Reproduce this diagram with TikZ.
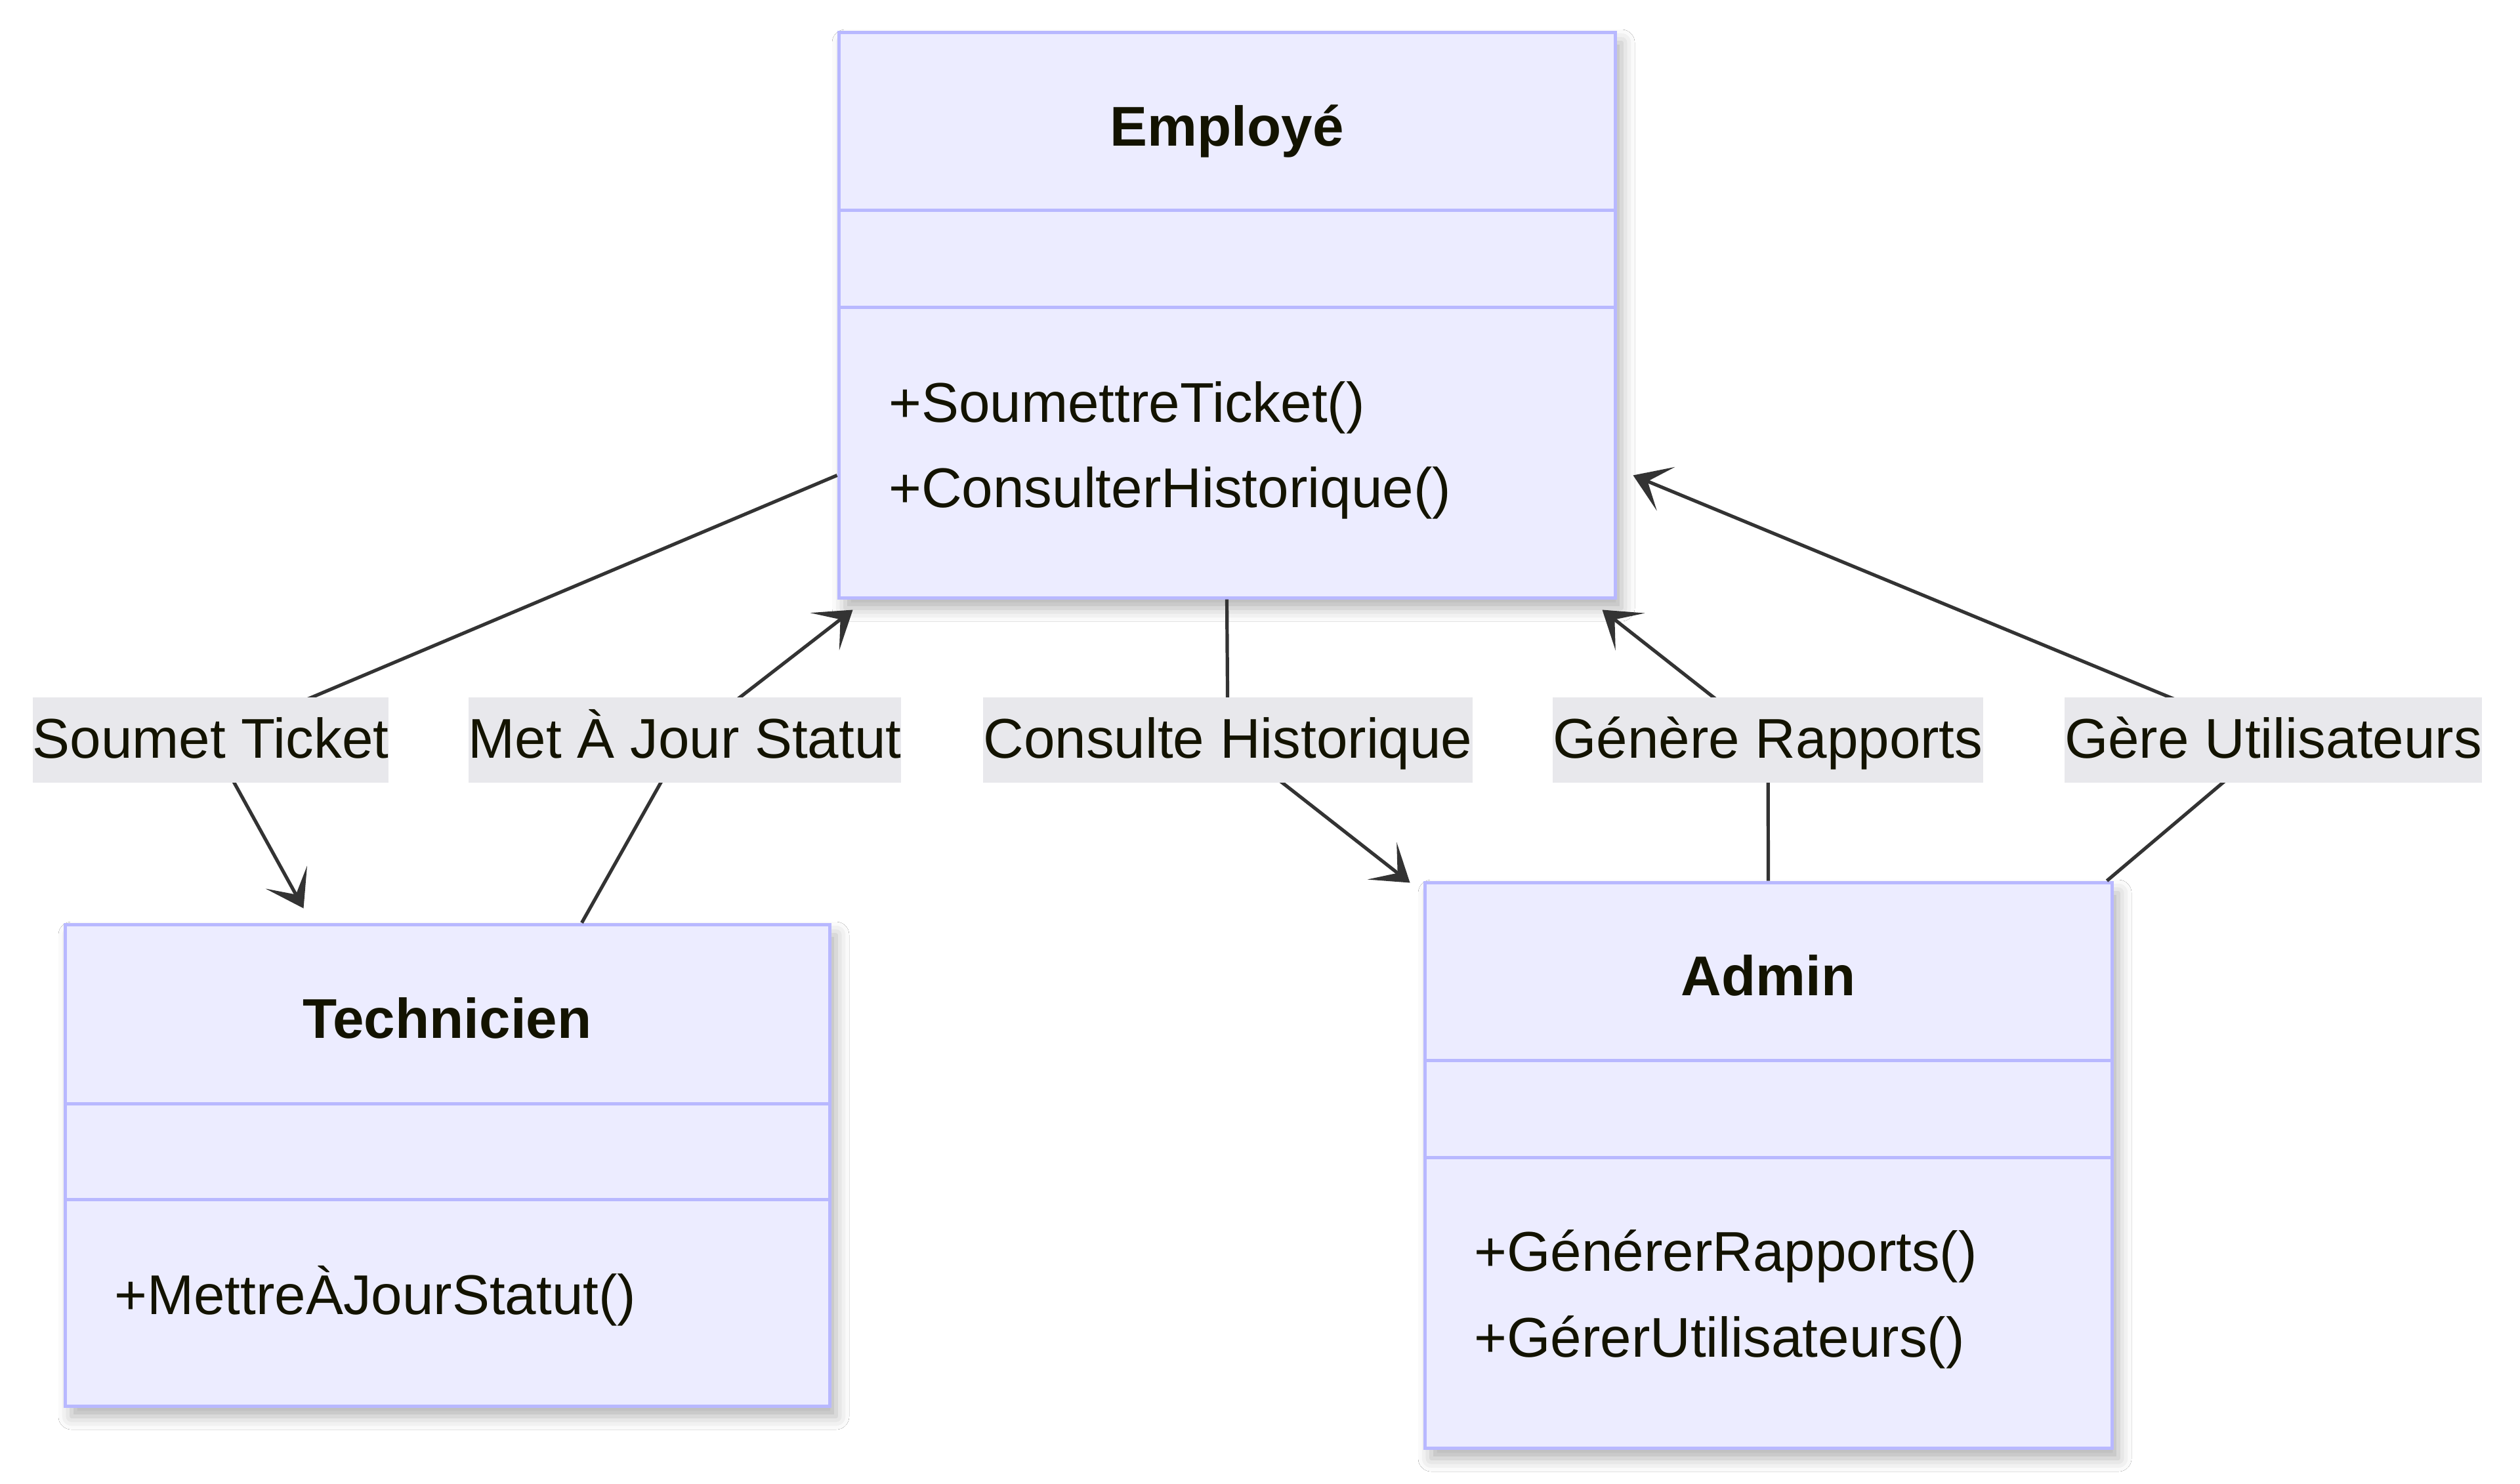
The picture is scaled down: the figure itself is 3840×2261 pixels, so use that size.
\documentclass[tikz,border=0pt]{standalone}
\usepackage{fontspec}
\setmainfont{Liberation Sans}
\usetikzlibrary{arrows.meta,calc,shadows.blur}
\definecolor{boxfill}{HTML}{ECECFF}
\definecolor{boxline}{HTML}{B8B8FF}
\definecolor{lblfill}{HTML}{E8E8EC}
\definecolor{txt}{HTML}{131300}
\definecolor{edgecol}{HTML}{333333}
\newcommand{\dfont}{\fontsize{21.35pt}{26pt}\selectfont}
\begin{document}
\begin{tikzpicture}[x=0.25pt,y=-0.25pt,
  classbox/.style={draw=boxline, fill=boxfill, line width=1.25pt, inner sep=0pt,
    blur shadow={shadow xshift=2.5pt, shadow yshift=-4pt, shadow blur radius=5pt, shadow opacity=30}},
  divider/.style={draw=boxline, line width=1.25pt},
  titletext/.style={font=\dfont\bfseries, text=txt, anchor=base, inner sep=0pt},
  methtext/.style={font=\dfont, text=txt, anchor=base west, inner sep=0pt},
  conn/.style={draw=edgecol, line width=1.3pt, -{Stealth[length=13.5pt,width=18pt,inset=7.5pt]}},
  edgelabel/.style={fill=lblfill, text=txt, font=\dfont, inner xsep=0pt, inner ysep=0pt,
    text height=23pt, text depth=9.5pt}
]
\useasboundingbox[fill=white] (0,0) rectangle (3840,2261);

% class boxes
\node[classbox, minimum width=295.75pt, minimum height=215.5pt] (emp) at (1869.5,480) {};
\node[classbox, minimum width=291.25pt, minimum height=183.5pt] (tech) at (681.5,1776) {};
\node[classbox, minimum width=261.75pt, minimum height=215.5pt] (adm) at (2694.5,1776) {};

% dividers
\draw[divider] ($(emp.north west)+(0,274)$) -- ($(emp.north east)+(0,274)$);
\draw[divider] ($(emp.north west)+(0,422)$) -- ($(emp.north east)+(0,422)$);
\draw[divider] ($(tech.north west)+(0,276)$) -- ($(tech.north east)+(0,276)$);
\draw[divider] ($(tech.north west)+(0,422)$) -- ($(tech.north east)+(0,422)$);
\draw[divider] ($(adm.north west)+(0,274)$) -- ($(adm.north east)+(0,274)$);
\draw[divider] ($(adm.north west)+(0,422)$) -- ($(adm.north east)+(0,422)$);

% texts
\node[titletext] (empT) at ($(emp.north)+(0,176)$) {Employé};
\node[methtext] (empM1) at ($(emp.north west)+(78,597)$) {+SoumettreTicket()};
\node[methtext] (empM2) at ($(emp.north west)+(78,727)$) {+ConsulterHistorique()};
\node[titletext] (techT) at ($(tech.north)+(0,176)$) {Technicien};
\node[methtext] (techM1) at ($(tech.north west)+(77,597)$) {+MettreÀJourStatut()};
\node[titletext] (admT) at ($(adm.north)+(0,175)$) {Admin};
\node[methtext] (admM1) at ($(adm.north west)+(77,595)$) {+GénérerRapports()};
\node[methtext] (admM2) at ($(adm.north west)+(77,726)$) {+GérerUtilisateurs()};

% label centres
\coordinate (l1) at (321,1128);
\coordinate (l2) at (1043.5,1128);
\coordinate (l3) at (1871,1128);
\coordinate (l4) at (2694,1128);
\coordinate (l5) at (3464,1128);

% connectors
\draw[conn] ($(emp.north west)+(0,678)$) -- (l1) -- ($(tech.north west)+(366,-22)$);
\draw[conn] ($(tech.north west)+(790,0)$) -- (l2) -- ($(emp.south west)+(24,16)$);
\draw[conn] (emp.south) -- (l3) -- ($(adm.north west)+(-20,3)$);
\draw[conn] (adm.north) -- (l4) -- ($(emp.south east)+(-22,16)$);
\draw[conn] ($(adm.north east)+(-10,0)$) -- (l5) -- ($(emp.north east)+(25,678)$);

% edge labels
\node[edgelabel] (t1) at (l1) {Soumet Ticket};
\node[edgelabel] (t2) at (l2) {Met À Jour Statut};
\node[edgelabel] (t3) at (l3) {Consulte Historique};
\node[edgelabel] (t4) at (l4) {Génère Rapports};
\node[edgelabel] (t5) at (l5) {Gère Utilisateurs};
\end{tikzpicture}
\end{document}
